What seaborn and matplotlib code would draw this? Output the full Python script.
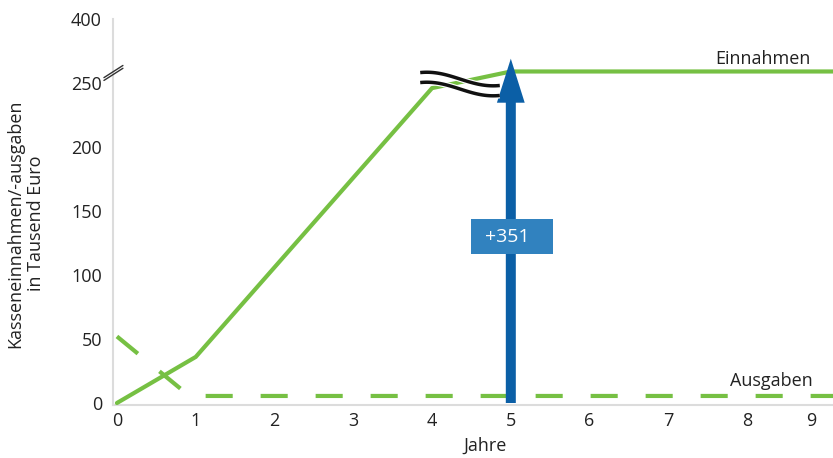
import numpy as np
import pandas as pd
import matplotlib
matplotlib.use("Agg")
import matplotlib.pyplot as plt
import matplotlib.patheffects as pe
from matplotlib.patches import Rectangle
import seaborn as sns

# ---- data ----
ein_x = [0, 1, 4, 5, 9.1]
ein_y = [0, 36, 246, 259, 259]
aus_x = [0, 0.92, 9.1]
aus_y = [52, 5.5, 5.5]
arrow_x = 5
arrow_y0 = 0
arrow_y1 = 269
arrow_label = "+351"
arrow_label_y = 130
xtick_pos = [0, 1, 2, 3, 4, 5, 6, 7, 8, 8.82]
xtick_labels = ["0", "1", "2", "3", "4", "5", "6", "7", "8", "9"]
ytick_pos = [0, 50, 100, 150, 200, 250, 300]
ytick_labels = ["0", "50", "100", "150", "200", "250", "400"]

GREEN = "#76c043"
BLUE = "#0b5fa6"
BOX = "#3182bf"
TXT = "#222222"

sns.set_theme(style="white")
plt.rcParams["font.family"] = ["Open Sans", "DejaVu Sans"]

fig = plt.figure(figsize=(8.33, 4.58), dpi=100)
ax = fig.add_axes([113 / 833, 53 / 458, 720 / 833, 386 / 458])

ein = pd.DataFrame({"Jahr": ein_x, "Wert": ein_y})
aus = pd.DataFrame({"Jahr": aus_x, "Wert": aus_y})
sns.lineplot(data=ein, x="Jahr", y="Wert", ax=ax, color=GREEN, lw=3,
             solid_joinstyle="miter", zorder=3)
sns.lineplot(data=aus, x="Jahr", y="Wert", ax=ax, color=GREEN, lw=3,
             linestyle=(0, (6.5, 6.7)), dash_capstyle="butt", zorder=3)

ax.set_xlim(-0.05, 9.09)
ax.set_ylim(-1.56, 300)

for s in ["top", "right"]:
    ax.spines[s].set_visible(False)
for s in ["left", "bottom"]:
    ax.spines[s].set_color("#dcdcdc")
    ax.spines[s].set_linewidth(1.5)

ax.set_xticks(xtick_pos)
ax.set_xticklabels(xtick_labels)
ax.set_yticks(ytick_pos)
ax.set_yticklabels(ytick_labels)
ax.tick_params(axis="both", length=0, labelsize=13, colors=TXT)
ax.tick_params(axis="x", pad=5)
ax.tick_params(axis="y", pad=8)

ax.set_xlabel("Jahre", fontsize=13, color=TXT)
ax.set_ylabel("Kasseneinnahmen/-ausgaben\nin Tausend Euro", fontsize=13,
              color=TXT, linespacing=1.25)
ax.xaxis.set_label_coords(0.517, -0.083)
ax.yaxis.set_label_coords(-0.094, 0.47)

# arrow
ax.annotate("", xy=(arrow_x, arrow_y1), xytext=(arrow_x, arrow_y0),
            arrowprops=dict(arrowstyle="simple,head_length=3.17,head_width=2.0,tail_width=0.72",
                            mutation_scale=10, color=BLUE, shrinkA=0, shrinkB=0, lw=0),
            zorder=4)
bw, bh = 1.04, 27.3
ax.add_patch(Rectangle((arrow_x + 0.02 - bw / 2, arrow_label_y - bh / 2), bw, bh,
                       facecolor=BOX, edgecolor="none", zorder=5))
ax.text(arrow_x - 0.04, arrow_label_y, arrow_label, ha="center", va="center",
        color="white", fontsize=14, zorder=6)

# series labels
ax.text(8.80, 262, "Einnahmen", ha="right", va="bottom", fontsize=13, color=TXT)
ax.text(8.83, 10, "Ausgaben", ha="right", va="bottom", fontsize=13, color=TXT)

# break symbol (wave)
t = np.linspace(0, 1, 80)
wx = 3.85 + t * (4.86 - 3.85)
wy = 253.1 + 5.3 * np.cos(np.pi * (1.2 * t - 0.1))
for off in (0, -7.8):
    ax.plot(wx, wy + off, color="#111111", lw=2.5, solid_capstyle="butt", zorder=4,
            path_effects=[pe.Stroke(linewidth=4.2, foreground="white"), pe.Normal()])

# axis break marks
for off in (0, 2.2):
    ax.plot([-0.165, 0.076], [252 + off, 261.5 + off], color="#333333", lw=1.0,
            clip_on=False, zorder=5)

fig.savefig("out.png", dpi=100)
